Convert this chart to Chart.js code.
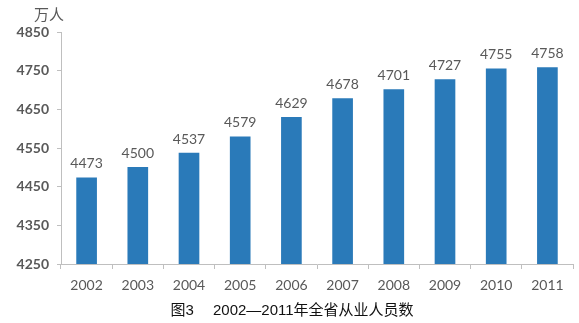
<!DOCTYPE html>
<html>
<head>
<meta charset="utf-8">
<script src="https://cdn.jsdelivr.net/npm/chart.js@4"></script>
<style>
  html, body { margin: 0; padding: 0; background: #fff; }
  #wrap { width: 579px; height: 323px; position: relative; }
</style>
</head>
<body>
<div id="wrap"><canvas id="chart" width="579" height="323"></canvas></div>
<script>
const years = ["2002", "2003", "2004", "2005", "2006", "2007", "2008", "2009", "2010", "2011"];
const employed = [4473, 4500, 4537, 4579, 4629, 4678, 4701, 4727, 4755, 4758];
const yTicks = [4250, 4350, 4450, 4550, 4650, 4750, 4850];
const unitLabel = "万人";
const caption = "图3\u2003 2002—2011年全省从业人员数";

const gray = "#595959";
const axisGray = "#bfbfbf";
const barBlue = "#2a7ab9";

// value labels above bars, unit text and caption
const annotate = {
  id: "annotate",
  afterDatasetsDraw(chart) {
    const { ctx } = chart;
    const meta = chart.getDatasetMeta(0);
    ctx.save();
    ctx.fillStyle = gray;
    ctx.font = "14px Lato, 'Open Sans', sans-serif";
    ctx.textAlign = "center";
    ctx.textBaseline = "bottom";
    meta.data.forEach((bar, i) => {
      ctx.fillText(String(employed[i]), bar.x, bar.y - 7);
    });

    ctx.font = "15px 'Noto Sans CJK SC', sans-serif";
    ctx.textAlign = "left";
    ctx.textBaseline = "middle";
    ctx.fillText(unitLabel, 34, 14);

    ctx.fillStyle = "#111";
    ctx.font = "15px 'Liberation Sans', 'Noto Sans CJK SC', sans-serif";
    ctx.textAlign = "center";
    ctx.fillText(caption, 292, 311);
    ctx.restore();
  }
};

new Chart(document.getElementById("chart"), {
  type: "bar",
  data: {
    labels: years,
    datasets: [{
      data: employed,
      backgroundColor: barBlue,
      barThickness: 20
    }]
  },
  options: {
    responsive: false,
    animation: false,
    layout: { padding: { top: 32, right: 6, left: 0, bottom: 0 } },
    plugins: {
      legend: { display: false },
      tooltip: { enabled: false }
    },
    scales: {
      x: {
        offset: true,
        grid: {
          display: true,
          drawOnChartArea: false,
          offset: true,
          tickLength: 5,
          color: axisGray
        },
        border: { color: axisGray },
        ticks: {
          color: gray,
          font: { family: "Lato, 'Open Sans', sans-serif", size: 14 },
          padding: 8
        },
        afterFit(scale) { scale.height = 59; }
      },
      y: {
        min: 4250,
        max: 4850,
        afterBuildTicks(scale) {
          scale.ticks = yTicks.map((v) => ({ value: v }));
        },
        grid: {
          display: true,
          drawOnChartArea: false,
          tickLength: 4,
          color: axisGray
        },
        border: { color: axisGray },
        ticks: {
          color: gray,
          font: { family: "Lato, 'Open Sans', sans-serif", size: 14, weight: "bold" },
          padding: 8,
          callback: (value) => String(value)
        },
        afterFit(scale) { scale.width = 61; }
      }
    }
  },
  plugins: [annotate]
});
</script>
</body>
</html>
